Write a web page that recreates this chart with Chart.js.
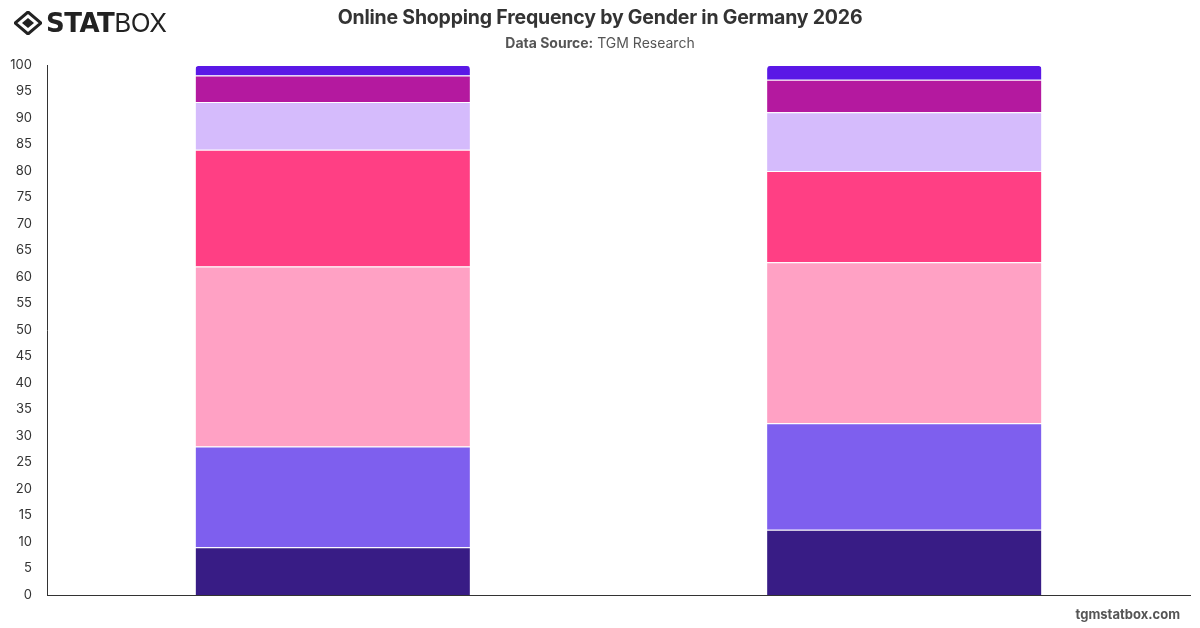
<!DOCTYPE html>
<html>
<head>
<meta charset="utf-8">
<script src="https://cdn.jsdelivr.net/npm/chart.js@4/dist/chart.umd.min.js"></script>
<style>
  html, body { margin: 0; padding: 0; background: #fff; }
  #wrap { position: relative; width: 1200px; height: 628px; overflow: hidden; font-family: Inter, "Noto Sans", sans-serif; }
  #c { position: absolute; left: 0; top: 0; }
  #title { position: absolute; left: 0; width: 1200px; top: 5px; text-align: center; font-size: 19.5px; font-weight: 700; color: #333; letter-spacing: -0.2px; }
  #sub { position: absolute; left: 0; width: 1200px; top: 34px; text-align: center; font-size: 14px; color: #555; }
  #sub b { font-weight: 700; }
  #wm { position: absolute; right: 20px; top: 606px; font-size: 13px; font-weight: 700; color: #555; }
  #logo { position: absolute; left: 14px; top: 7px; display: flex; align-items: center; color: #222; }
  #logo .t1 { font-family: "DejaVu Sans", sans-serif; font-weight: 900; font-size: 26px; letter-spacing: -0.5px; margin-left: 4px; }
  #logo .t2 { font-family: Inter, sans-serif; font-weight: 400; font-size: 26px; letter-spacing: -0.5px; }
</style>
</head>
<body>
<div id="wrap">
  <canvas id="c" width="1200" height="628"></canvas>
  <div id="logo">
    <svg width="28" height="24" viewBox="0 0 28 24">
      <polygon points="14,1 27,12 14,23 1,12" fill="none" stroke="#222" stroke-width="3"/>
      <polygon points="14,7 20,12 14,17 8,12" fill="#222"/>
    </svg>
    <span class="t1">STAT</span><span class="t2">BOX</span>
  </div>
  <div id="title">Online Shopping Frequency by Gender in Germany 2026</div>
  <div id="sub"><b>Data Source:</b> TGM Research</div>
  <div id="wm">tgmstatbox.com</div>
</div>
<script>
const categories = ["Male", "Female"];
const seriesLabels = ["Daily", "Several times a week", "Once a week", "Several times a month", "Once a month", "Less often", "Never"];
const daily = [9, 12.3];
const severalWeek = [19, 20.1];
const onceWeek = [34, 30.4];
const severalMonth = [22, 17.2];
const onceMonth = [9, 11.1];
const lessOften = [5, 6.1];
const never = [2, 2.8];
const yTicks = [0, 5, 10, 15, 20, 25, 30, 35, 40, 45, 50, 55, 60, 65, 70, 75, 80, 85, 90, 95, 100];

const seriesValues = [daily, severalWeek, onceWeek, severalMonth, onceMonth, lessOften, never];
const colors = ["#381c85", "#7e5fee", "#ffa1c4", "#ff3f84", "#d5bbfc", "#b4199f", "#5a18e6"];

const datasets = seriesValues.map((vals, i) => ({
  label: seriesLabels[i],
  data: vals,
  backgroundColor: colors[i],
  borderColor: "#ffffff",
  borderWidth: { top: 1, left: 0, right: 0, bottom: 0 },
  borderSkipped: false,
  borderRadius: i === seriesValues.length - 1 ? { topLeft: 4, topRight: 4, bottomLeft: 0, bottomRight: 0 } : 0,
  barPercentage: 0.8,
  categoryPercentage: 0.6
}));

new Chart(document.getElementById("c"), {
  type: "bar",
  data: { labels: categories, datasets },
  options: {
    responsive: false,
    animation: false,
    layout: { padding: { top: 65, bottom: 33, right: 10, left: 0 } },
    plugins: { legend: { display: false }, tooltip: { enabled: false }, title: { display: false } },
    scales: {
      x: {
        stacked: true,
        grid: { display: false, drawTicks: false },
        ticks: { display: false },
        border: { display: true, color: "#333", width: 1 }
      },
      y: {
        stacked: true,
        min: 0, max: 100,
        afterBuildTicks: (s) => { s.ticks = yTicks.map(v => ({ value: v })); },
        afterFit: (s) => { s.width = 47; },
        grid: { display: false, drawTicks: false },
        border: { display: true, color: "#333", width: 1 },
        ticks: { padding: 15, color: "#333", font: { family: "Inter, sans-serif", size: 13 } }
      }
    }
  }
});
</script>
</body>
</html>
